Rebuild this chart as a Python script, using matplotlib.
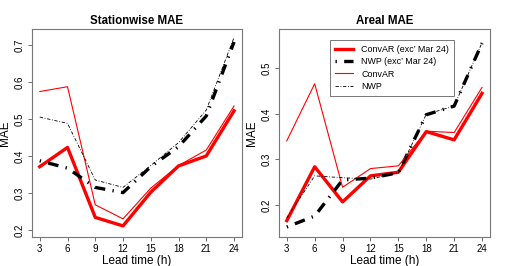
import matplotlib
matplotlib.use('Agg')
import matplotlib.pyplot as plt

plt.rcParams['font.family'] = ['Liberation Sans', 'DejaVu Sans']

lead = [3, 6, 9, 12, 15, 18, 21, 24]

# Stationwise MAE
st_convar_exc = [0.371, 0.423, 0.234, 0.211, 0.302, 0.373, 0.400, 0.522]
st_nwp_exc = [0.387, 0.367, 0.315, 0.301, 0.371, 0.425, 0.508, 0.708]
st_convar = [0.574, 0.587, 0.268, 0.230, 0.313, 0.374, 0.416, 0.535]
st_nwp = [0.505, 0.488, 0.335, 0.315, 0.374, 0.436, 0.524, 0.720]

# Areal MAE
ar_convar_exc = [0.166, 0.284, 0.207, 0.264, 0.272, 0.361, 0.343, 0.445]
ar_nwp_exc = [0.152, 0.176, 0.255, 0.259, 0.271, 0.398, 0.417, 0.555]
ar_convar = [0.341, 0.466, 0.239, 0.280, 0.286, 0.362, 0.359, 0.458]
ar_nwp = [0.172, 0.264, 0.260, 0.257, 0.271, 0.399, 0.417, 0.556]

labels = ['ConvAR (exc\u2019 Mar 24)', 'NWP (exc\u2019 Mar 24)', 'ConvAR', 'NWP']

fig = plt.figure(figsize=(5.2, 2.66), dpi=100)
ax1 = fig.add_axes([0.0615, 0.109, 0.4035, 0.782])
ax2 = fig.add_axes([0.5365, 0.109, 0.4055, 0.782])


def draw(ax, ce, ne, c, n):
    ax.plot(lead, ce, color='red', lw=2.4, label=labels[0])
    ax.plot(lead, ne, color='black', lw=2.4, dashes=(0.4, 2.2, 3.2, 2.2), label=labels[1])
    ax.plot(lead, c, color='red', lw=0.8, label=labels[2])
    ax.plot(lead, n, color='black', lw=0.6, dashes=(4, 2, 1, 2), label=labels[3])
    ax.set_xlim(2.16, 24.84)
    ax.set_xticks(lead)
    ax.set_xlabel('Lead time (h)', fontsize=8.5, labelpad=1)
    ax.set_ylabel('MAE', fontsize=8.5, labelpad=3)
    ax.tick_params(axis='both', labelsize=7, length=3, width=0.6, color='#555555', pad=2)
    for s in ax.spines.values():
        s.set_color('#777777')
        s.set_linewidth(0.8)


draw(ax1, st_convar_exc, st_nwp_exc, st_convar, st_nwp)
ax1.set_ylim(0.181, 0.743)
ax1.set_yticks([0.2, 0.3, 0.4, 0.5, 0.6, 0.7])
ax1.set_title('Stationwise MAE', fontsize=8.3, fontweight='bold', pad=3.5)

draw(ax2, ar_convar_exc, ar_nwp_exc, ar_convar, ar_nwp)
ax2.set_ylim(0.130, 0.586)
ax2.set_yticks([0.2, 0.3, 0.4, 0.5])
ax2.set_title('Areal MAE', fontsize=8.3, fontweight='bold', pad=3.5)

for ax in (ax1, ax2):
    for lab in ax.get_yticklabels():
        lab.set_rotation(90)
        lab.set_va('center')

leg = ax2.legend(loc='upper left', bbox_to_anchor=(326 / 520, 1 - 36 / 266),
                 bbox_transform=fig.transFigure, fontsize=6.4, frameon=True,
                 fancybox=False, handlelength=2.0, borderpad=0.55, labelspacing=0.35,
                 handletextpad=0.9)
leg.get_frame().set_edgecolor('#555555')
leg.get_frame().set_linewidth(0.7)

fig.savefig('out.png', dpi=100)
